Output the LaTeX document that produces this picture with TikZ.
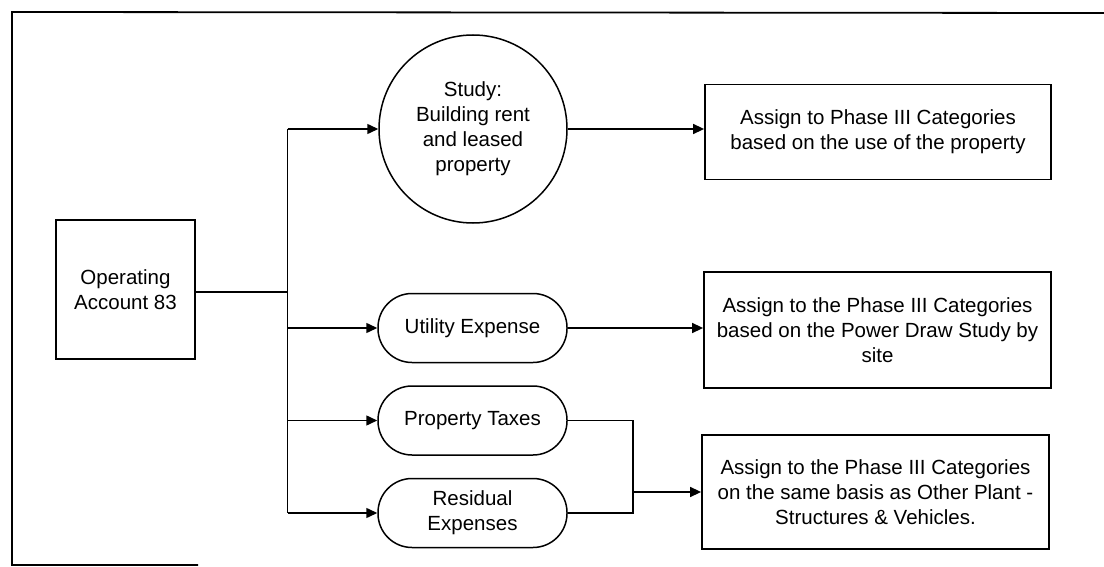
\documentclass[tikz,border=0pt]{standalone}
\usepackage{fontspec}
\setmainfont{Liberation Sans}
\usetikzlibrary{arrows.meta}

\tikzset{
	every node/.style={font=\fontsize{20.5}{25}\selectfont,align=center,inner sep=0pt},
	rectbox/.style={rectangle,draw=black,line width=1.8pt},
	roundbox/.style={rectangle,draw=black,line width=1.5pt,rounded corners=34pt,minimum width=189pt,minimum height=69pt},
	studycircle/.style={circle,draw=black,line width=1.5pt,minimum size=188pt},
	link/.style={black,line width=1.5pt},
	arr/.style={link,-{Triangle[length=11pt,width=10pt]}}
}

\begin{document}
\begin{tikzpicture}[x=1pt,y=-1pt]
	\useasboundingbox (0,0) rectangle (1104,567);
	% frame of the scanned page
	\draw[line width=1.8pt] (198,565) -- (12,565) -- (12,12) -- (1104,13);

	\node[rectbox,minimum width=139pt,minimum height=139pt] (acct) at (125.5,289.5) {Operating\\Account 83};
	\node[studycircle] (study) at (473,129) {Study:\\Building rent\\and leased\\property};
	\node[roundbox] (util) at (472.5,328) {Utility Expense};
	\node[roundbox] (tax) at (472.5,420.5) {Property Taxes};
	\node[roundbox] (resid) at (472.5,513) {Residual\\Expenses};

	\node[rectbox,minimum width=346pt,minimum height=95pt] (cat1) at (878,132) {Assign to Phase III Categories\\based on the use of the property};
	\node[rectbox,minimum width=347pt,minimum height=116pt] (cat2) at (877.5,330) {Assign to the Phase III Categories\\based on the Power Draw Study by\\site};
	\node[rectbox,minimum width=347pt,minimum height=114pt] (cat3) at (875.5,492) {Assign to the Phase III Categories\\on the same basis as Other Plant -\\Structures \& Vehicles.};

	\coordinate (split) at (287.5,292);
	\coordinate (join) at (633,492);

	\draw[link] (acct.east |- split) -- (split);
	\draw[link] (split |- study.west) -- (split |- resid.west);
	\foreach \n in {study,util,tax,resid}
		\draw[arr] (split |- \n.west) -- (\n.west);

	\draw[arr] (study.east) -- (study.east -| cat1.west);
	\draw[arr] (util.east) -- (util.east -| cat2.west);
	\draw[link] (tax.east) -- (tax.east -| join) -- (resid.east -| join) -- (resid.east);
	\draw[arr] (join) -- (join -| cat3.west);
\end{tikzpicture}
\end{document}
